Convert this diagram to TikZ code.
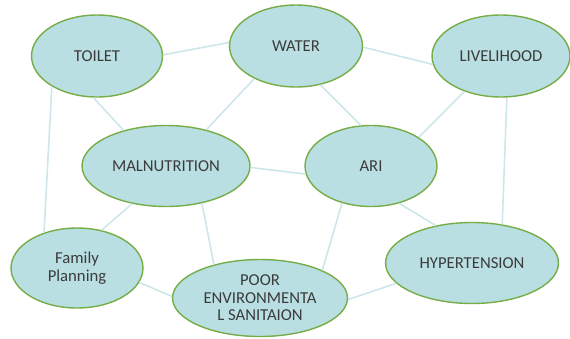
\documentclass[tikz,border=0pt]{standalone}
\usepackage{fontspec}
\setmainfont{Carlito}
\usetikzlibrary{positioning, shapes.geometric}
\definecolor{bubblefill}{HTML}{BADFE3}
\definecolor{bubbleline}{HTML}{77AD48}
\definecolor{linkcol}{HTML}{CDE6EA}
\definecolor{labelcol}{HTML}{3B3B3B}
\tikzset{
  bubble/.style={ellipse, draw=bubbleline, line width=0.8pt, fill=bubblefill, text=labelcol,
    inner sep=0pt, align=center, font=\fontsize{9.5}{10}\selectfont},
  link/.style={draw=linkcol, line width=0.9pt}
}
\begin{document}
\begin{tikzpicture}[x=0.02cm, y=-0.02cm]
  \useasboundingbox (0,0) rectangle (570,338);
  % Top row
  \node[bubble, minimum width=2.62cm, minimum height=1.64cm] (toilet) at (97,56) {TOILET};
  \node[bubble, minimum width=2.66cm, minimum height=1.64cm] (water) at (296,46) {WATER};
  \node[bubble, minimum width=2.76cm, minimum height=1.64cm] (liv) at (501,56) {LIVELIHOOD};
  % Middle row
  \node[bubble, minimum width=3.36cm, minimum height=1.62cm] (malnu) at (166,166) {MALNUTRITION};
  \node[bubble, minimum width=2.64cm, minimum height=1.62cm] (ari) at (371,166) {ARI};
  % Bottom row
  \node[bubble, minimum width=2.64cm, minimum height=1.60cm] (family) at (77,268) {Family\\Planning};
  \node[bubble, minimum width=3.50cm, minimum height=1.54cm] (poor) at (260,298) {POOR\\ENVIRONMENTA\\L SANITAION};
  \node[bubble, minimum width=3.46cm, minimum height=1.62cm] (hyper) at (472,263) {HYPERTENSION};

  % Links
  \draw[link] (toilet.1) -- (water.177);
  \draw[link] (water.-1) -- (liv.-173);
  \draw[link] (toilet.-95) -- (malnu.140);
  \draw[link] (toilet.-146) -- (family.133);
  \draw[link] (water.-142) -- (malnu.42);
  \draw[link] (water.-58) -- (ari.104);
  \draw[link] (liv.-136) -- (ari.31);
  \draw[link] (liv.-82) -- (hyper.52);
  \draw[link] (malnu.-1) -- (ari.-173);
  \draw[link] (malnu.-132) -- (family.57);
  \draw[link] (malnu.-46) -- (poor.144);
  \draw[link] (ari.-128) -- (poor.24);
  \draw[link] (ari.-53) -- (hyper.134);
  \draw[link] (family.-13) -- (poor.179);
  \draw[link] (poor.-1) -- (hyper.-165);
\end{tikzpicture}
\end{document}
